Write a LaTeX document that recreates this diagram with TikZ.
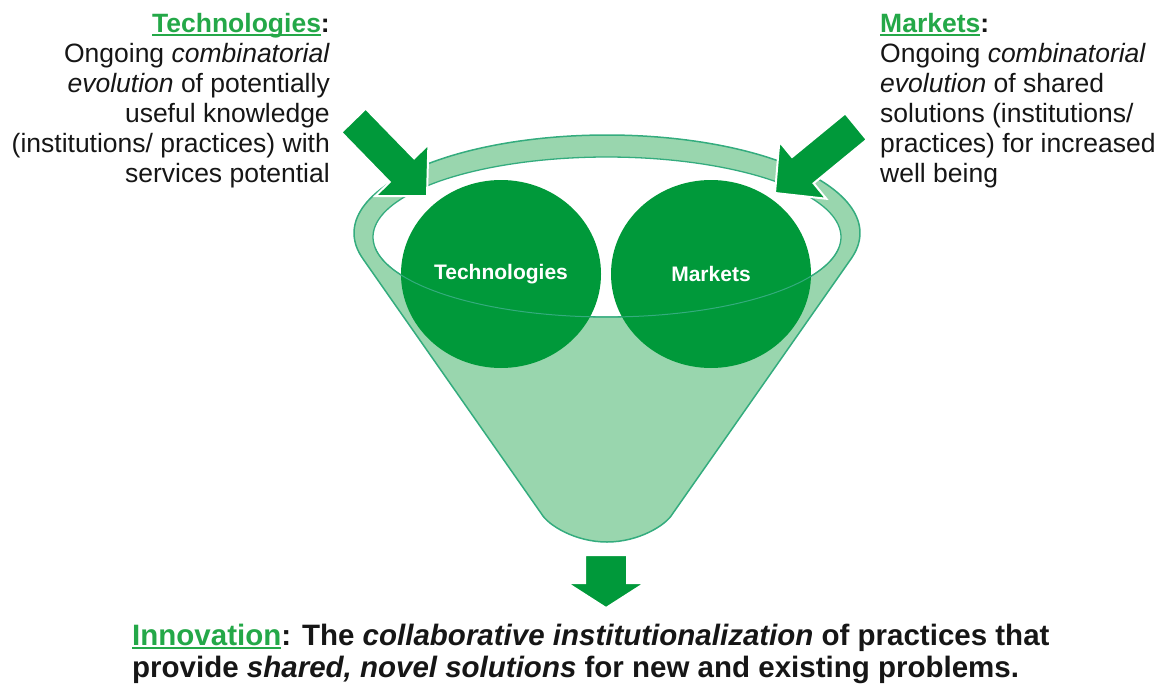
\documentclass[tikz,border=0pt]{standalone}
\usepackage{fontspec}
\setmainfont{Liberation Sans}
\usetikzlibrary{calc,shapes.geometric}

\definecolor{dkgreen}{RGB}{0,153,58}
\definecolor{ltgreen}{RGB}{153,214,174}
\definecolor{rimline}{RGB}{52,172,126}
\definecolor{hdgreen}{RGB}{36,168,72}
\definecolor{inkblack}{RGB}{22,22,22}

% green heading word with a green rule just under the baseline
\newcommand\hdword[1]{{\color{hdgreen}\setbox0\hbox{#1}\rlap{\rule[-3.6pt]{\wd0}{2pt}}\box0}}

% block arrow: #1 tail centre, #2 tip, #3 shaft half width, #4 head half width, #5 head length
\newcommand\blockarrow[5]{%
  \coordinate (#2-base) at ($(#2)!#5!(#1)$);
  \filldraw[arrowfill]
    ($(#1)!#3!90:(#2)$) -- ($(#2-base)!#3!90:(#2)$) -- ($(#2-base)!#4!90:(#2)$)
    -- (#2)
    -- ($(#2-base)!#4!-90:(#2)$) -- ($(#2-base)!#3!-90:(#2)$) -- ($(#1)!#3!-90:(#2)$) -- cycle;}

\tikzset{
  arrowfill/.style={fill=dkgreen, draw=white, line width=2pt, line join=miter},
  funnelbody/.style={fill=ltgreen, draw=rimline, line width=1.5pt, line join=round},
  ball/.style={ellipse, fill=dkgreen, minimum width=200pt, minimum height=188pt, inner sep=0pt,
    text=white, font=\bfseries\fontsize{21}{24}\selectfont},
  sidetext/.style={inner sep=0pt, text=inkblack, font=\fontsize{26.5}{30}\selectfont},
  bottomtext/.style={inner sep=0pt, text=inkblack, font=\bfseries\fontsize{29.5}{32}\selectfont},
}

\begin{document}
\begin{tikzpicture}[x=1pt,y=-1pt]
\useasboundingbox (0,0) rectangle (1159,685);

% funnel: outer rim (top half of the outer ellipse), tapering sides and rounded spout
\filldraw[funnelbody]
  plot[domain=15.2:-195.2, samples=120] ({607+253*cos(\x)},{233+98*sin(\x)})
  -- (541.6,514) .. controls (548,525) and (575,542) .. (607,542)
  .. controls (639,542) and (666,525) .. (672.4,514) -- cycle;

% the funnel's opening
\filldraw[fill=white, draw=rimline, line width=1.3pt]
  plot[domain=0:360, samples=160] ({607+234*cos(\x)},{237+80*sin(\x)}) -- cycle;

% the two balls in the funnel
\node[ball] (tech) at (501,274) {Technologies};
\node[ball] (mkt)  at (711,274) {Markets};

% front lip of the opening, seen across the balls
\draw[rimline, line width=1pt]
  plot[domain=8:172, samples=100] ({607+234*cos(\x)},{237+80*sin(\x)});

% feed arrows into the funnel
\coordinate (techin-tail) at (353.5,120.5);
\coordinate (techin)      at (427,196);
\blockarrow{techin-tail}{techin}{17pt}{37pt}{36pt}

\coordinate (mktin-tail) at (856,126.5);
\coordinate (mktin)      at (775,193);
\blockarrow{mktin-tail}{mktin}{17pt}{37pt}{36pt}

% output arrow under the spout
\coordinate (out-tail) at (606,555);
\coordinate (out)      at (606,608);
\blockarrow{out-tail}{out}{21pt}{39pt}{25pt}

% side descriptions (anchored at the baseline of their last line)
\node[sidetext, anchor=base east, align=right] (techtext) at (330,182)
  {\textbf{\hdword{Technologies}:}\\
   Ongoing \textit{combinatorial}\\
   \textit{evolution} of potentially\\
   useful knowledge\\
   (institutions/ practices) with\\
   services potential};

\node[sidetext, anchor=base west, align=left] (mkttext) at (880,182)
  {\textbf{\hdword{Markets}:}\\
   Ongoing \textit{combinatorial}\\
   \textit{evolution} of shared\\
   solutions (institutions/\\
   practices) for increased\\
   well being};

% conclusion
\node[bottomtext, anchor=base west, align=left] (innov) at (132,677)
  {\hdword{Innovation}: The \textit{collaborative institutionalization} of practices that\\
   provide \textit{shared, novel solutions} for new and existing problems.};
\end{tikzpicture}
\end{document}
